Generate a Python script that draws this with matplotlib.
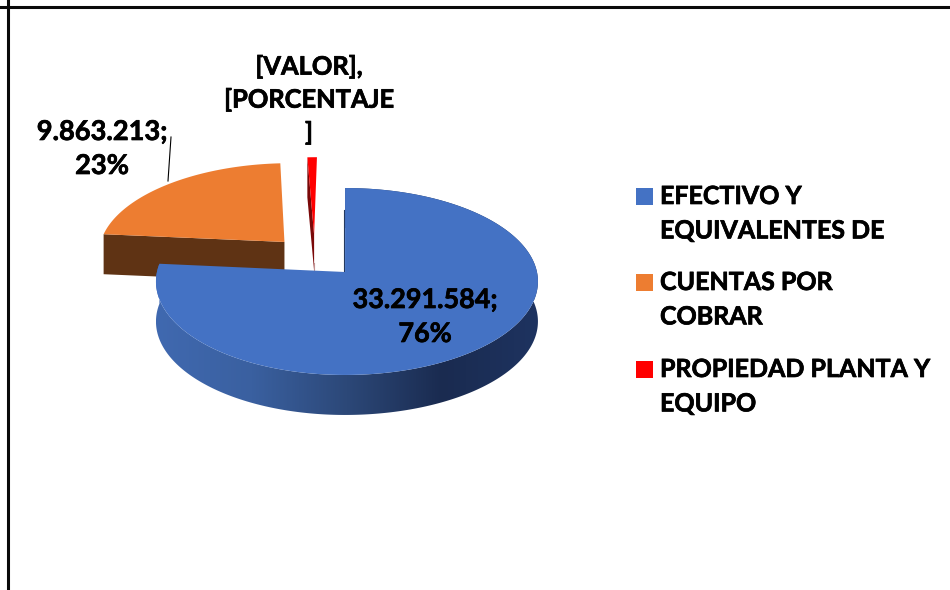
import numpy as np
import matplotlib
matplotlib.use('Agg')
import matplotlib.pyplot as plt
import matplotlib.patheffects as pe
from matplotlib.colors import LinearSegmentedColormap
from matplotlib.patches import Polygon, Rectangle

# Datos de la torta
categorias = ['EFECTIVO Y\nEQUIVALENTES DE', 'CUENTAS POR\nCOBRAR', 'PROPIEDAD PLANTA Y\nEQUIPO']
valores = [33291584, 9863213, 400000]  # el tercero no se lee en el original, estimado
etiquetas = ['33.291.584;\n76%', '9.863.213;\n23%', '[VALOR],\n[PORCENTAJE\n]']
colores = ['#4472C4', '#ED7D31', '#FF0000']

plt.rcParams['font.family'] = ['Lato', 'DejaVu Sans']
plt.rcParams['font.weight'] = 'bold'

# Geometria en pixeles de la imagen
CX, CY = 346, 272
RADIO, B, P = 190, 92.5, 0.1016  # perspectiva
PROF = 40  # profundidad de la torta
separacion = [(-0.005, 0.0), (-0.335, 0.336), (-0.175, 0.42)]
grueso = [pe.withStroke(linewidth=0.5, foreground='black')]


def proyectar(u, v):
    w = 1 + P * v
    return CX + RADIO * u / w, CY - B * v / w


fig = plt.figure(figsize=(9.5, 5.9), dpi=100)
ax = fig.add_axes([0, 0, 1, 1])
ax.axis('off')

# Angulos de cada porcion, horario desde las 12
fracciones = np.array(valores) / np.sum(valores)
cortes = np.concatenate([[0], np.cumsum(fracciones)]) * 2 * np.pi


def cara(i, n=200, izq=1.0, der=1.0):
    t = np.linspace(cortes[i], cortes[i + 1], n)
    du, dv = separacion[i]
    s = np.sin(t)
    s = np.where(s < 0, s * izq, s * der)
    x, y = proyectar(s + du, np.cos(t) + dv)
    x0, y0 = proyectar(du, dv)
    return np.r_[x0, x], np.r_[y0, y]


# Naranja: cara de corte y tapa
x_n, y_n = cara(1)
ax.fill([x_n[0], x_n[1], x_n[1], x_n[0]],
        [y_n[0], y_n[1], y_n[1] + PROF, y_n[0] + PROF], color='#5F3314', lw=0, zorder=2)
ax.fill(x_n, y_n, color=colores[1], lw=0, zorder=3)

# Rojo
x_r, y_r = cara(2)
ax.fill([x_r[1], x_r[0], x_r[0], x_r[1]],
        [y_r[1], y_r[0], y_r[0] + PROF - 4, y_r[1] + PROF],
        color='#7A0808', lw=0, zorder=2)
ax.fill(x_r, y_r, color=colores[2], lw=0, zorder=3)
ax.plot([x_r[0], x_r[0]], [y_r[0] + PROF - 12, y_r[0] + PROF - 2], color='#C09090', lw=0.8, zorder=3)

# Azul: costado con degradado
x_a, y_a = cara(0, 500, izq=0.99, der=1.01)
degradado = LinearSegmentedColormap.from_list(
    'lado', ['#4069B0', '#3A60A0', '#2C4878', '#1A2B50', '#1E3360'])
x_min, x_max = x_a[1:].min(), x_a[1:].max()
borde = np.c_[np.r_[x_a[1:], x_a[:0:-1]], np.r_[y_a[1:], y_a[:0:-1] + PROF]]
lado = Polygon(borde, closed=True, transform=ax.transData, facecolor='none', edgecolor='none')
ax.add_patch(lado)
img = ax.imshow(np.linspace(0, 1, 256)[None, :], cmap=degradado, aspect='auto',
                extent=[x_min, x_max, y_a.max() + PROF + 2, y_a.min()], zorder=4)
img.set_clip_path(lado)
ax.plot([x_a[0] - 1, x_a[0] - 1], [y_a[0] - 62, y_a[0]], color='#24395F', lw=0.8, zorder=4)
ax.fill(x_a, y_a, color=colores[0], lw=0, zorder=5)

# Etiquetas de datos
ax.plot([171, 168], [137, 181], color='black', lw=0.8, zorder=6)
pos_etiquetas = [(425, 317), (102, 149), (309, 100)]
tam_etiquetas = [19.4, 19.6, 18.3]
for texto, (x, y), tam in zip(etiquetas, pos_etiquetas, tam_etiquetas):
    ax.text(x, y, texto, ha='center', va='center', fontsize=tam, fontweight='bold',
            color='black', linespacing=1.5, zorder=7, path_effects=grueso)

# Leyenda
leyenda_y = [197, 283, 370]
for nombre, color, y in zip(categorias, colores, leyenda_y):
    ax.add_patch(Rectangle((636, y - 9), 17, 17, color=color, lw=0))
    ax.text(660, y - 12, nombre, ha='left', va='top', fontsize=18, fontweight='bold',
            color='black', linespacing=1.6, path_effects=grueso)

# Marco: solo arriba e izquierda
ax.axvline(7.5, color='#0A0A0A', lw=2.2)
ax.axhline(6.5, color='#0A0A0A', lw=2.2)

ax.set_xlim(0, 950)
ax.set_ylim(590, 0)

fig.savefig('out.png', dpi=100)
